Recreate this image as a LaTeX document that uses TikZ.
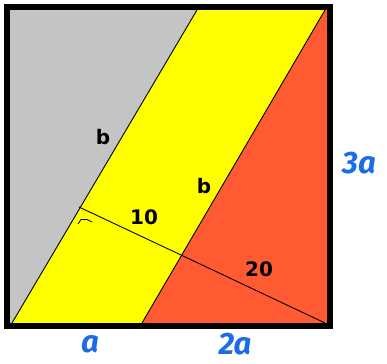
\documentclass[tikz,border=0pt]{standalone}
\usepackage{fontspec}
\setmainfont{DejaVu Sans}
\newfontfamily\handfont{Fira Sans}
\usetikzlibrary{positioning}
\definecolor{grayarea}{HTML}{C4C4C4}
\definecolor{yellowarea}{HTML}{FFFF00}
\definecolor{redarea}{HTML}{FF5A32}
\definecolor{lenblue}{HTML}{1C6CE8}

\begin{document}
\begin{tikzpicture}[x=1pt,y=-1pt,
  seg/.style={line width=0.9pt},
  lbl/.style={font=\bfseries\fontsize{20}{20}\selectfont},
  sidelbl/.style={text=lenblue,inner sep=1pt,font=\handfont\bfseries\itshape\fontsize{31}{31}\selectfont}]
  \useasboundingbox (0,0) rectangle (387,363);
  % corners and cut points
  \coordinate (tl) at (10,10);
  \coordinate (tr) at (327,10);
  \coordinate (br) at (327,323);
  \coordinate (bl) at (10,323);
  \coordinate (gtop) at (197,10);
  \coordinate (gbot) at (12,323);
  \coordinate (ytop) at (325,10);
  \coordinate (ybot) at (142,323);
  \coordinate (foot) at (79,207);
  \coordinate (cross) at (181,255);
  \coordinate (corner) at (325,323);
  % areas
  \fill[redarea] (tl) rectangle (br);
  \fill[yellowarea] (tl) -- (ytop) -- (ybot) -- (bl) -- cycle;
  \fill[grayarea] (tl) -- (gtop) -- (gbot) -- (bl) -- cycle;
  % lines
  \draw[seg] (gtop) -- (gbot);
  \draw[seg] (ytop) -- (ybot);
  \draw[seg] (foot) -- (cross) -- (corner);
  \draw[line width=0.7pt] (78,224) -- (81,219.5) -- (87,219.5) -- (92,222);
  \draw[line width=6pt] (7,7) rectangle (330,326);
  % labels
  \node[lbl] (bleft) at (103,137) {b};
  \node[lbl] (bright) at (204,186) {b};
  \node[lbl] (ten) at (144,217) {10};
  \node[lbl] (twenty) at (259,269) {20};
  \node[sidelbl] (sidethree) at (359,163) {3a};
  \node[sidelbl] (sidea) at (90,344) {a};
  \node[sidelbl] (sidetwo) at (235,344) {2a};
\end{tikzpicture}
\end{document}
